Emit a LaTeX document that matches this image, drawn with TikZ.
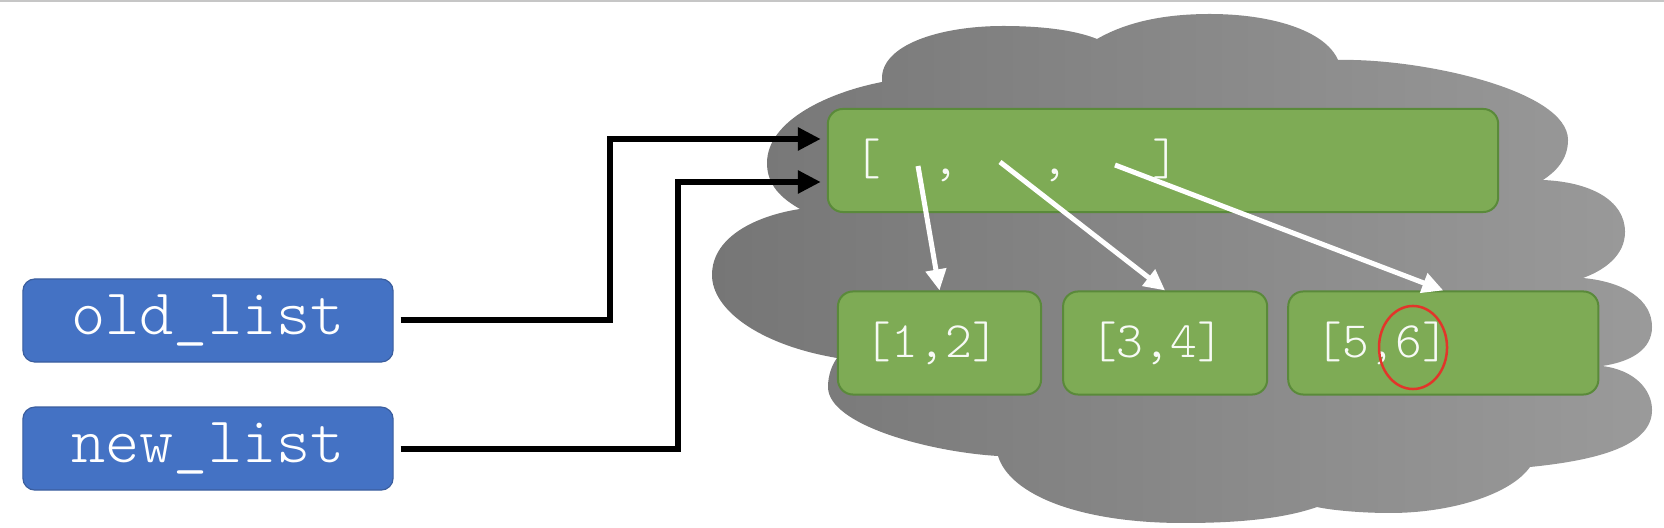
\documentclass[tikz,border=0pt]{standalone}
\usepackage{fontspec}
\setmonofont{Latin Modern Mono Light}
\usepackage{xcolor}
\usetikzlibrary{arrows.meta,positioning,calc,shapes.geometric}

\definecolor{varblue}{HTML}{4472C4}
\definecolor{varedge}{HTML}{3B5E9E}
\definecolor{cellgreen}{HTML}{7EAB55}
\definecolor{celledge}{HTML}{5A8A3A}
\definecolor{heapdark}{HTML}{767676}
\definecolor{heaplight}{HTML}{9A9A9A}
\definecolor{markred}{HTML}{E2352A}

\begin{document}
\begin{tikzpicture}[x=0.01cm, y=-0.01cm, node distance=1.28cm]
    \tikzstyle{var} = [rectangle, draw=varedge, line width=0.012cm, fill=varblue, rounded corners=0.12cm, minimum width=3.7cm, minimum height=0.83cm, text=white, font=\ttfamily\fontsize{18.5}{18.5}\selectfont]
    \tikzstyle{cell} = [rectangle, draw=celledge, line width=0.02cm, fill=cellgreen, rounded corners=0.15cm, inner xsep=0.27cm, minimum height=1.03cm, align=left, text=white!94!cellgreen, font=\ttfamily\fontsize{14.5}{14.5}\selectfont]
    \tikzstyle{ref} = [draw, -{Triangle[length=0.23cm,width=0.22cm]}, line width=0.06cm, shorten <=0.07cm, shorten >=0.06cm]
    \tikzstyle{item} = [draw=white, -{Triangle[length=0.21cm,width=0.2cm]}, line width=0.05cm]

    \useasboundingbox (0,0) rectangle (1664,528);
    \draw[gray!45, line width=0.02cm] (0,1) -- (1664,1);

    % heap
    \path[left color=heapdark, right color=heaplight]
        (882,80) .. controls (880,45) and (940,26) .. (1003,26)
        .. controls (1050,26) and (1080,32) .. (1097,39)
        .. controls (1130,20) and (1170,14) .. (1210,14)
        .. controls (1270,14) and (1325,30) .. (1338,60)
        .. controls (1420,58) and (1568,90) .. (1568,140)
        .. controls (1568,160) and (1555,172) .. (1543,180)
        .. controls (1590,182) and (1625,200) .. (1625,232)
        .. controls (1625,255) and (1605,270) .. (1583,278)
        .. controls (1625,282) and (1652,300) .. (1652,327)
        .. controls (1652,350) and (1630,362) .. (1602,366)
        .. controls (1635,370) and (1652,390) .. (1652,410)
        .. controls (1652,445) and (1600,460) .. (1530,467)
        .. controls (1510,495) and (1450,513) .. (1390,513)
        .. controls (1360,513) and (1330,510) .. (1317,507)
        .. controls (1280,520) and (1230,523) .. (1183,523)
        .. controls (1080,523) and (1010,495) .. (998,456)
        .. controls (930,452) and (828,425) .. (828,387)
        .. controls (828,375) and (832,365) .. (837,358)
        .. controls (760,345) and (712,310) .. (712,275)
        .. controls (712,235) and (760,215) .. (800,209)
        .. controls (775,195) and (767,180) .. (767,163)
        .. controls (767,120) and (830,92) .. (882,82) -- cycle;

    \node [var] (old) at (208,320.5) {old\_list};
    \node [var, below of=old] (new) {new\_list};

    \node [cell, text width=6.16cm] (list) at (1163,160.5) {[\hspace{1.0em},\hspace{1.62em},\hspace{1.64em}]};
    \node [cell, text width=1.49cm] (pair1) at (939.5,343) {[1,2]};
    \node [cell, text width=1.50cm, right of=pair1, node distance=2.255cm] (pair2) {[3,4]};
    \node [cell, text width=2.56cm, right of=pair2, node distance=2.78cm] (pair3) {[5,6]};

    \node [ellipse, draw=markred, line width=0.025cm, minimum width=0.68cm, minimum height=0.83cm, inner sep=0pt] (mark) at (1413,347.5) {};

    \coordinate (in1) at ($(list.west)+(0,-21.5)$);
    \coordinate (in2) at ($(list.west)+(0,21.5)$);
    \coordinate (bend1) at (610,0);
    \coordinate (bend2) at (678,0);
    \coordinate (slot1) at (918,166);
    \coordinate (slot2) at (1000,162);
    \coordinate (slot3) at (1115,165);

    \path [ref] (old.east) -- (old.east -| bend1) |- (in1);
    \path [ref] (new.east) -- (new.east -| bend2) |- (in2);
    \path [item] (slot1) -- (pair1.north);
    \path [item] (slot2) -- (pair2.north);
    \path [item] (slot3) -- (pair3.north);
\end{tikzpicture}
\end{document}
